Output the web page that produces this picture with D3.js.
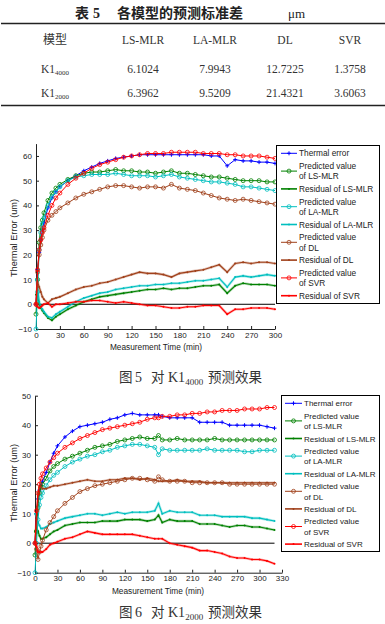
<!DOCTYPE html>
<html>
<head>
<meta charset="utf-8">
<script src="https://cdn.jsdelivr.net/npm/d3@7"></script>
<style>
body { margin: 0; background: #fff; }
text { font-family: "Liberation Sans", Arial, sans-serif; }
</style>
</head>
<body>
<svg width="385" height="624"></svg>
<script>
// ---- table 5 ----
var tableHeader = ["模型", "LS-MLR", "LA-MLR", "DL", "SVR"];
var tableRowSubs = ["4000", "2000"];
var tableValues = [
  [6.1024, 7.9943, 12.7225, 1.3758],
  [6.3962, 9.5209, 21.4321, 3.6063]
];

// ---- fig 5: K1_4000 ----
var time4000 = [0,2,4,6,8,10,15,20,25,30,40,50,60,70,80,90,100,110,120,130,140,150,160,170,180,190,200,210,220,230,240,250,260,270,280,290,300];
var thermal4000 = [0,14,21,26,30,33,39,43,45.5,47.5,50,52,54,55.5,57,58,59,59.5,60,60.5,60.5,60.5,60.5,60.5,60.5,60.5,60.5,60.5,60,60,56,58.5,58,58,57.5,57.5,57];
var lsPred4000 = [-4,10,25,31,34,37,42,45,47,48.5,50.5,52,53,53.5,53.5,54,54.5,54,54,53.5,53.5,53,53.5,54,53,53,52.5,52,51.5,51.5,51,50.5,50,50,50,49.5,49.5];
var lsRes4000 = [4,3,0,-1.5,-2.5,-3.5,-5.5,-6.5,-5,-4,-2,-0.5,1,2,3,3.5,4,4.5,5,5.5,6,6,6.5,6,6.5,6.5,7,7.5,7.5,8,4.5,7.5,8.5,8,8,8,7.5];
var laPred4000 = [-10,5,22,29,32.5,35,40,43.5,45.5,47.5,50,51.5,52,52.5,52.5,52.5,53,52.5,52,52,52,51.5,52,52.5,51.5,51,50.5,50,49.5,49.5,49,48.5,47.5,47.5,47,46.5,46];
var laRes4000 = [10,7,1,-1,-2,-3,-5,-5.5,-4,-3,-1,1,2.5,3.5,4.5,5,6,6.5,7,7.5,7.5,8,8,8.5,8.5,9,9.5,9.5,10,10.5,7,11,11.5,11,11.5,12,11.5];
var dlPred4000 = [0,13,20,24,27,30,34,36,37.5,39,41,43,44.5,45.5,46.5,47.5,48,48,47.5,47,47.5,47.5,47,48.5,47,46.5,46,45,44,43,42.5,42,42.5,42,41.5,41,40.5];
var dlRes4000 = [0,9,7,5,3,2,0.5,2,2.5,3,4.5,6,7,7.5,8.5,9,10,11,12,13,12.5,12.5,12,11,12.5,13,13.5,14,15,16,13,16.5,17,16.5,17,17,16.5];
var svrPred4000 = [0,14,22,26,29,31,36,40,43,45,48.5,51,53,55,56.5,57.5,58.5,59.5,60,60.5,61,61,61,61.5,61.5,61.5,61.5,61,61,61,60.5,60.5,60,60,60,59.5,59];
var svrRes4000 = [0,-1,-1.5,-1,-0.5,0,0.5,-1,0,0,0.5,1,1,1.5,1.5,1,0.5,1,0.5,0,-0.5,-0.5,-1,-1.5,-1.5,-1,-1,-0.5,-0.5,-0.5,-4,-2,-2,-1.5,-1.5,-1.5,-2];
var xTicks4000 = [0,30,60,90,120,150,180,210,240,270,300];
var yTicks4000 = [-10,0,10,20,30,40,50,60];

// ---- fig 6: K1_2000 ----
var time2000 = [0,2,4,6,8,10,15,20,25,30,40,50,60,70,80,90,100,110,120,130,140,150,160,165,170,180,190,200,210,220,230,240,250,260,270,280,290,300,310,320];
var thermal2000 = [0,10,15,18,19.5,21,24,27.5,30.5,33,36,38,39.5,40,40.5,41,42,42.5,43.5,44,43.5,43.5,43.5,43.5,43,42.5,42.5,42.5,42.5,41,41,41,41,40,40,40,40,40,39.5,39];
var lsPred2000 = [-4,4,12,17,19,20,22,24.5,26,27,28.5,29.5,30.5,31.5,32.5,33,33.5,34.5,35,35.5,36,35.5,35.5,36.5,35,35,35.5,35,35,35,35,35.5,35,35,35,35,35,35,35,35];
var lsRes2000 = [4,5,4,2.5,1.5,1.5,2,3,4,4.5,6,6.5,7,7,7,7.5,7.5,7.5,8,8,8,7.5,8,9.5,7,8,7.5,7.5,7.5,6.5,6.5,6.5,6,5.5,6,6,5.5,5.5,5,4.5];
var laPred2000 = [-10,0,8,13,15.5,17,19.5,21.5,23,24,26,27.5,28.5,29.5,30,31,31.5,32.5,33,33.5,33.5,33,32.5,30,32,31.5,31.5,31.5,31.5,31.5,32,31.5,31.5,31.5,31.5,31,31,31.5,31.5,31.5];
var laRes2000 = [10,9,7,6,5,5,5.5,6.5,7,7.5,8.5,9,9.5,10,10,9.5,10,10.5,10,10.5,10.5,10.5,11,13.5,10,11,10.5,10.5,10.5,9.5,9.5,9.5,9,9,9,9,8.5,8.5,8,7.5];
var dlPred2000 = [0,-2,-5.5,-3,-1,1,4.5,7,9,11,13.5,15.5,17.5,18.5,19.5,20,20.5,21,21.5,22,22,21.5,21,22.5,21.5,21,21,21,20.5,20.5,20.5,20.5,20.5,20,20,20,20,20,20,20];
var dlRes2000 = [0,8,16,19,19,18.5,18.5,19,19.5,19.5,20,20.5,21,21.5,21,21,21.5,21.5,22,22,21.5,22,21.5,21,21,21,21.5,21,21,21,20.5,20.5,20.5,20.5,20.5,20.5,20.5,20.5,20.5,20.5];
var svrPred2000 = [0,11,17,20,22,23.5,25.5,27.5,29,30.5,32.5,34,35.5,36.5,37.5,38.5,39,39.5,40,40.5,41,42,42.5,42.5,43,43,43.5,43.5,44,44,44.5,44.5,45,45,45,45.5,45.5,45.5,46,46];
var svrRes2000 = [0,-1,-3,-3,-3,-3,-2,-0.5,0,0.5,1.5,2,3,4,3.5,3,3,3,3,3,2.5,2,1.5,1.5,1.5,0,-0.5,-1,-1.5,-2.5,-2.5,-3,-3.5,-4.5,-5,-5,-5.5,-5.5,-6,-7];
var xTicks2000 = [0,30,60,90,120,150,180,210,240,270,300,330];
var yTicks2000 = [-10,0,10,20,30,40,50];

var legendLabels = [
  ["Thermal error"],
  ["Predicted value", "of LS-MLR"],
  ["Residual of LS-MLR"],
  ["Predicted value", "of LA-MLR"],
  ["Residual of LA-MLR"],
  ["Predicted value", "of DL"],
  ["Residual of DL"],
  ["Predicted value", "of SVR"],
  ["Residual of SVR"]
];
var seriesColors = ["#0000ff", "#008000", "#008000", "#00bfbf", "#00bfbf", "#a0401a", "#a0401a", "#ff0000", "#ff0000"];
var seriesKinds = ["plus", "circle", "dot", "circle", "dot", "circle", "dot", "circle", "dot"];

var svg = d3.select("svg");
var serif = "'Liberation Serif', 'Times New Roman', serif";
var cjk = "'Noto Sans CJK SC', sans-serif";

// ---------- table ----------
var tbl = svg.append("g");
tbl.append("text").attr("x", 75).attr("y", 18).style("font-family", cjk).style("font-weight", "bold")
    .style("font-size", "14px").attr("fill", "#222").text("表");
tbl.append("text").attr("x", 93).attr("y", 18).style("font-family", serif).style("font-weight", "bold")
    .style("font-size", "14px").attr("fill", "#222").text("5");
tbl.append("text").attr("x", 117).attr("y", 18).style("font-family", cjk).style("font-weight", "bold")
    .style("font-size", "14px").attr("fill", "#222").text("各模型的预测标准差");
tbl.append("text").attr("x", 288).attr("y", 18).style("font-family", serif)
    .style("font-size", "13px").attr("fill", "#222").text("μm");

tbl.append("line").attr("x1", 1).attr("x2", 385).attr("y1", 23.5).attr("y2", 23.5)
    .attr("stroke", "#222").attr("stroke-width", 1.5);
tbl.append("line").attr("x1", 1).attr("x2", 385).attr("y1", 105.5).attr("y2", 105.5)
    .attr("stroke", "#222").attr("stroke-width", 1.5);

var colX = d3.scalePoint().domain(tableHeader).range([55, 350]);
var colCenters = [55, 143, 215, 285, 350];
tableHeader.forEach(function(h, i) {
  tbl.append("text").attr("x", colCenters[i]).attr("y", 44).attr("text-anchor", "middle")
      .style("font-family", i == 0 ? cjk : serif).style("font-size", i == 0 ? "12px" : "11.5px")
      .attr("fill", "#333").text(h);
});
var fmt = d3.format(".4f");
tableRowSubs.forEach(function(sub, r) {
  var yy = 73 + r * 23.5;
  var t = tbl.append("text").attr("x", colCenters[0]).attr("y", yy).attr("text-anchor", "middle")
      .style("font-family", serif).style("font-size", "11.5px").attr("fill", "#333");
  t.append("tspan").text("K1");
  t.append("tspan").attr("dy", 2).style("font-size", "7px").text(sub);
  tableValues[r].forEach(function(v, i) {
    tbl.append("text").attr("x", colCenters[i + 1]).attr("y", yy).attr("text-anchor", "middle")
        .style("font-family", serif).style("font-size", "11.5px").attr("fill", "#333").text(fmt(v));
  });
});

// ---------- charts ----------
function drawChart(opt) {
  var x = d3.scaleLinear().domain(opt.xDomain).range(opt.xRange),
      y = d3.scaleLinear().domain(opt.yDomain).range(opt.yRange);
  var g = svg.append("g");

  var xAxis = g.append("g")
      .attr("transform", "translate(0," + opt.yRange[0] + ")")
      .call(d3.axisBottom(x).tickValues(opt.xTicks).tickSizeInner(-3).tickSizeOuter(0).tickPadding(3));
  var yAxis = g.append("g")
      .attr("transform", "translate(" + opt.xRange[0] + ",0)")
      .call(d3.axisLeft(y).tickValues(opt.yTicks).tickSizeInner(-3).tickSizeOuter(0).tickPadding(4));
  [xAxis, yAxis].forEach(function(a) {
    a.selectAll("text").style("font-size", "8px").style("font-family", "'Liberation Sans', Arial, sans-serif").attr("fill", "#222");
    a.selectAll("line, path").attr("stroke", "#222");
  });

  g.append("text").attr("x", opt.xLabelX).attr("y", opt.xLabelY).attr("text-anchor", "middle")
      .style("font-size", "8.3px").attr("fill", "#222").text("Measurement Time (min)");
  g.append("text").attr("transform", "translate(" + opt.yLabelX + "," + opt.yLabelY + ") rotate(-90)")
      .attr("text-anchor", "middle").style("font-size", "9.2px").attr("fill", "#222").text("Thermal Error (um)");

  // zero line
  g.append("line").attr("x1", x(0)).attr("x2", x(opt.time[opt.time.length - 1]))
      .attr("y1", y(0)).attr("y2", y(0)).attr("stroke", "#000").attr("stroke-width", 1);

  var line = d3.line()
      .x(function(d) { return x(d.t); })
      .y(function(d) { return y(d.v); });

  opt.series.forEach(function(vals, i) {
    var pts = vals.map(function(v, j) { return {t: opt.time[j], v: v}; });
    var color = seriesColors[i], kind = seriesKinds[i];
    var sg = g.append("g");
    if (kind == "dot") {
      sg.append("path").attr("d", line(pts)).attr("fill", "none")
          .attr("stroke", color).attr("stroke-opacity", 0.3).attr("stroke-width", 2.6);
    }
    sg.append("path").attr("d", line(pts)).attr("fill", "none")
        .attr("stroke", color).attr("stroke-width", kind == "dot" ? 1.1 : 1);
    drawMarkers(sg, pts.map(function(p) { return [x(p.t), y(p.v)]; }), kind, color);
  });

  // legend
  var L = opt.legend;
  var lg = g.append("g").attr("transform", "translate(" + L.x + "," + L.y + ")");
  lg.append("rect").attr("x", 0.5).attr("y", 0.5).attr("width", L.w).attr("height", L.h)
      .attr("fill", "#fff").attr("stroke", "#000").attr("stroke-width", 1);
  legendLabels.forEach(function(lines, i) {
    var cy = 8.3 + i * L.step;
    lg.append("line").attr("x1", L.sx0).attr("x2", L.sx1).attr("y1", cy).attr("y2", cy)
        .attr("stroke", seriesColors[i]).attr("stroke-width", seriesKinds[i] == "dot" ? 1.6 : 1);
    drawMarkers(lg, [[(L.sx0 + L.sx1) / 2, cy]], seriesKinds[i], seriesColors[i]);
    lines.forEach(function(s, k) {
      var off = lines.length == 1 ? 0 : (k == 0 ? -5.2 : 5.2);
      lg.append("text").attr("x", L.tx).attr("y", cy + off + 3)
          .style("font-size", L.font + "px").attr("fill", "#222").text(s);
    });
  });
}

function drawMarkers(sel, pts, kind, color) {
  if (kind == "plus") {
    sel.selectAll(null).data(pts).enter().append("path")
        .attr("d", function(d) { return "M" + (d[0] - 2) + "," + d[1] + "h4M" + d[0] + "," + (d[1] - 2) + "v4"; })
        .attr("stroke", color).attr("stroke-width", 1);
  } else if (kind == "circle") {
    sel.selectAll(null).data(pts).enter().append("circle")
        .attr("cx", function(d) { return d[0]; }).attr("cy", function(d) { return d[1]; })
        .attr("r", 2).attr("fill", "none").attr("stroke", color).attr("stroke-width", 0.8);
  } else {
    sel.selectAll(null).data(pts).enter().append("circle")
        .attr("cx", function(d) { return d[0]; }).attr("cy", function(d) { return d[1]; })
        .attr("r", 1).attr("fill", color);
  }
}

drawChart({
  time: time4000,
  series: [thermal4000, lsPred4000, lsRes4000, laPred4000, laRes4000, dlPred4000, dlRes4000, svrPred4000, svrRes4000],
  xDomain: [0, 300], xRange: [36, 275],
  yDomain: [-10, 65], yRange: [329, 143.6],
  xTicks: xTicks4000, yTicks: yTicks4000,
  xLabelX: 156, xLabelY: 350, yLabelX: 17, yLabelY: 238,
  legend: {x: 276, y: 145, w: 103, h: 158, step: 17.8, sx0: 5, sx1: 21, tx: 23, font: 8.3}
});

drawChart({
  time: time2000,
  series: [thermal2000, lsPred2000, lsRes2000, laPred2000, laRes2000, dlPred2000, dlRes2000, svrPred2000, svrRes2000],
  xDomain: [0, 330], xRange: [35, 282],
  yDomain: [-10, 50], yRange: [572.7, 395.7],
  xTicks: xTicks2000, yTicks: yTicks2000,
  xLabelX: 158, xLabelY: 594, yLabelX: 17, yLabelY: 483,
  legend: {x: 281, y: 395, w: 98, h: 156, step: 17.6, sx0: 4, sx1: 21, tx: 23, font: 8}
});

// ---------- captions ----------
function caption(yy, num, sub) {
  var c = svg.append("g").attr("fill", "#333");
  c.append("text").attr("x", 119).attr("y", yy).style("font-family", cjk).style("font-size", "13.5px").text("图");
  c.append("text").attr("x", 135).attr("y", yy).style("font-family", serif).style("font-size", "14px").text(num);
  c.append("text").attr("x", 151).attr("y", yy).style("font-family", cjk).style("font-size", "13.5px").text("对");
  var k = c.append("text").attr("x", 168).attr("y", yy).style("font-family", serif).style("font-size", "14px");
  k.append("tspan").text("K1");
  k.append("tspan").attr("dy", 3).style("font-size", "9px").text(sub);
  c.append("text").attr("x", 208).attr("y", yy).style("font-family", cjk).style("font-size", "13.5px").text("预测效果");
}
caption(382, "5", "4000");
caption(617, "6", "2000");
</script>
</body>
</html>
